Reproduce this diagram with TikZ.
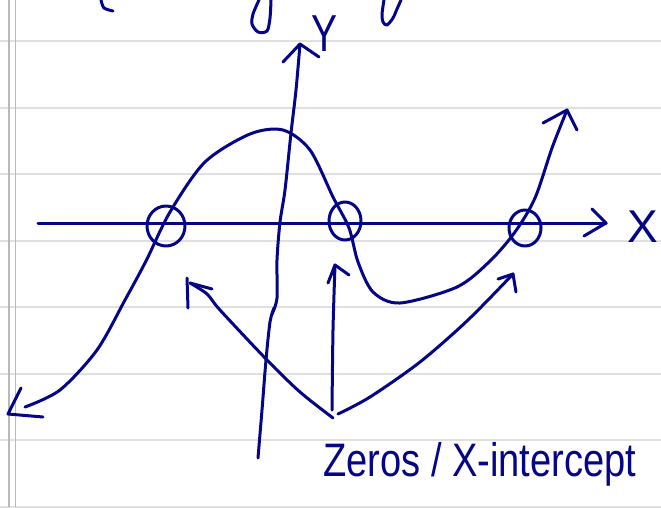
\documentclass[tikz,border=0pt]{standalone}
\usepackage{fontspec}
\setmainfont{Liberation Sans}
\definecolor{ink}{RGB}{5,5,135}
\definecolor{rulegray}{RGB}{224,224,224}
\definecolor{margingray}{RGB}{185,185,185}
\begin{document}
\begin{tikzpicture}[x=1pt,y=-1pt,
  pen/.style={draw=ink,line width=3pt,line cap=round,line join=round},
  ruleline/.style={draw=rulegray,line width=2pt},
  marginline/.style={draw=margingray,line width=1.4pt},
  hand/.style={text=ink,inner sep=0pt}]
\useasboundingbox (0,0) rectangle (661,507);
% notebook paper
\foreach \yy in {41,107.5,174,240.5,307,373.5,440,506.5}
  \draw[ruleline] (0,\yy) -- (661,\yy);
\draw[marginline] (9,0) -- (9,507);
\draw[marginline] (15.5,0) -- (15.5,507);
% cut-off handwriting at top
\draw[pen] plot[smooth] coordinates {(101,0) (104,8) (113,11)};
\draw[pen] plot[smooth] coordinates {(259,0) (253,14) (252,24) (258,32) (267,31) (270,18) (271,0)};
\draw[pen] plot[smooth] coordinates {(384,0) (382,14) (383,22) (387,25) (393,18) (397,9) (401,0)};
% x axis
\coordinate (xl) at (38,223);
\coordinate (xr) at (606,223);
\draw[pen] (xl) -- (xr);
\draw[pen] (592,209) -- (xr) -- (584,236);
\node[hand,font=\fontsize{46}{46}\selectfont] (xlab) at (643,227) {X};
% y axis
\coordinate (yt) at (300,44);
\coordinate (yb) at (258,458);
\draw[pen] plot[smooth] coordinates {(yt) (296,90) (291,133) (285,190) (280,222) (277,260) (277,298) (272,314)};
\draw[pen] plot[smooth] coordinates {(274,308) (270,322) (266,360) (262,410) (yb)};
\draw[pen] (283,62) -- (yt) -- (319,57);
\node[hand,font=\fontsize{52}{52}\selectfont] (ylab) at (325,34) {\scalebox{0.75}[1]{Y}};
% function curve
\coordinate (cl) at (8,414);
\coordinate (cr) at (567,110);
\draw[pen] plot[smooth] coordinates {(25,407) (60,390) (97,350) (125,300) (146,261) (170,212) (205,162) (250,134) (283,130) (310,150) (333,197) (349,228) (358,262) (373,292) (400,303) (457,287) (490,261) (515,232) (535,198) (552,148) (cr)};
\draw[pen] (21,388) -- (cl) -- (43,417);
\draw[pen] (543,123) -- (cr) -- (577,130);
% zeros
\draw[pen] (166,226) ellipse [x radius=19, y radius=20];
\draw[pen] (345,221) ellipse [x radius=16, y radius=19];
\draw[pen] (525,228) ellipse [x radius=16, y radius=18];
% pointer arrows
\coordinate (src) at (335,414);
\coordinate (t1) at (190,283);
\coordinate (t2) at (335,265);
\coordinate (t3) at (513,274);
\draw[pen] plot[smooth] coordinates {(333,418) (300,392) (267,360) (220,310) (207,294) (t1)};
\draw[pen] (187,278) -- (188,308);
\draw[pen] (t1) -- (212,289);
\draw[pen] plot[smooth] coordinates {(332,410) (333,330) (t2)};
\draw[pen] (328,283) -- (t2) -- (349,275);
\draw[pen] plot[smooth] coordinates {(338,414) (370,397) (420,362) (468,320) (t3)};
\draw[pen] (498,279) -- (t3) -- (516,292);
% label
\node[hand,anchor=base west] (lab) at (323,476) {\scalebox{0.81}[1]{\fontsize{47}{47}\selectfont Zeros / X-intercept}};
\end{tikzpicture}
\end{document}
